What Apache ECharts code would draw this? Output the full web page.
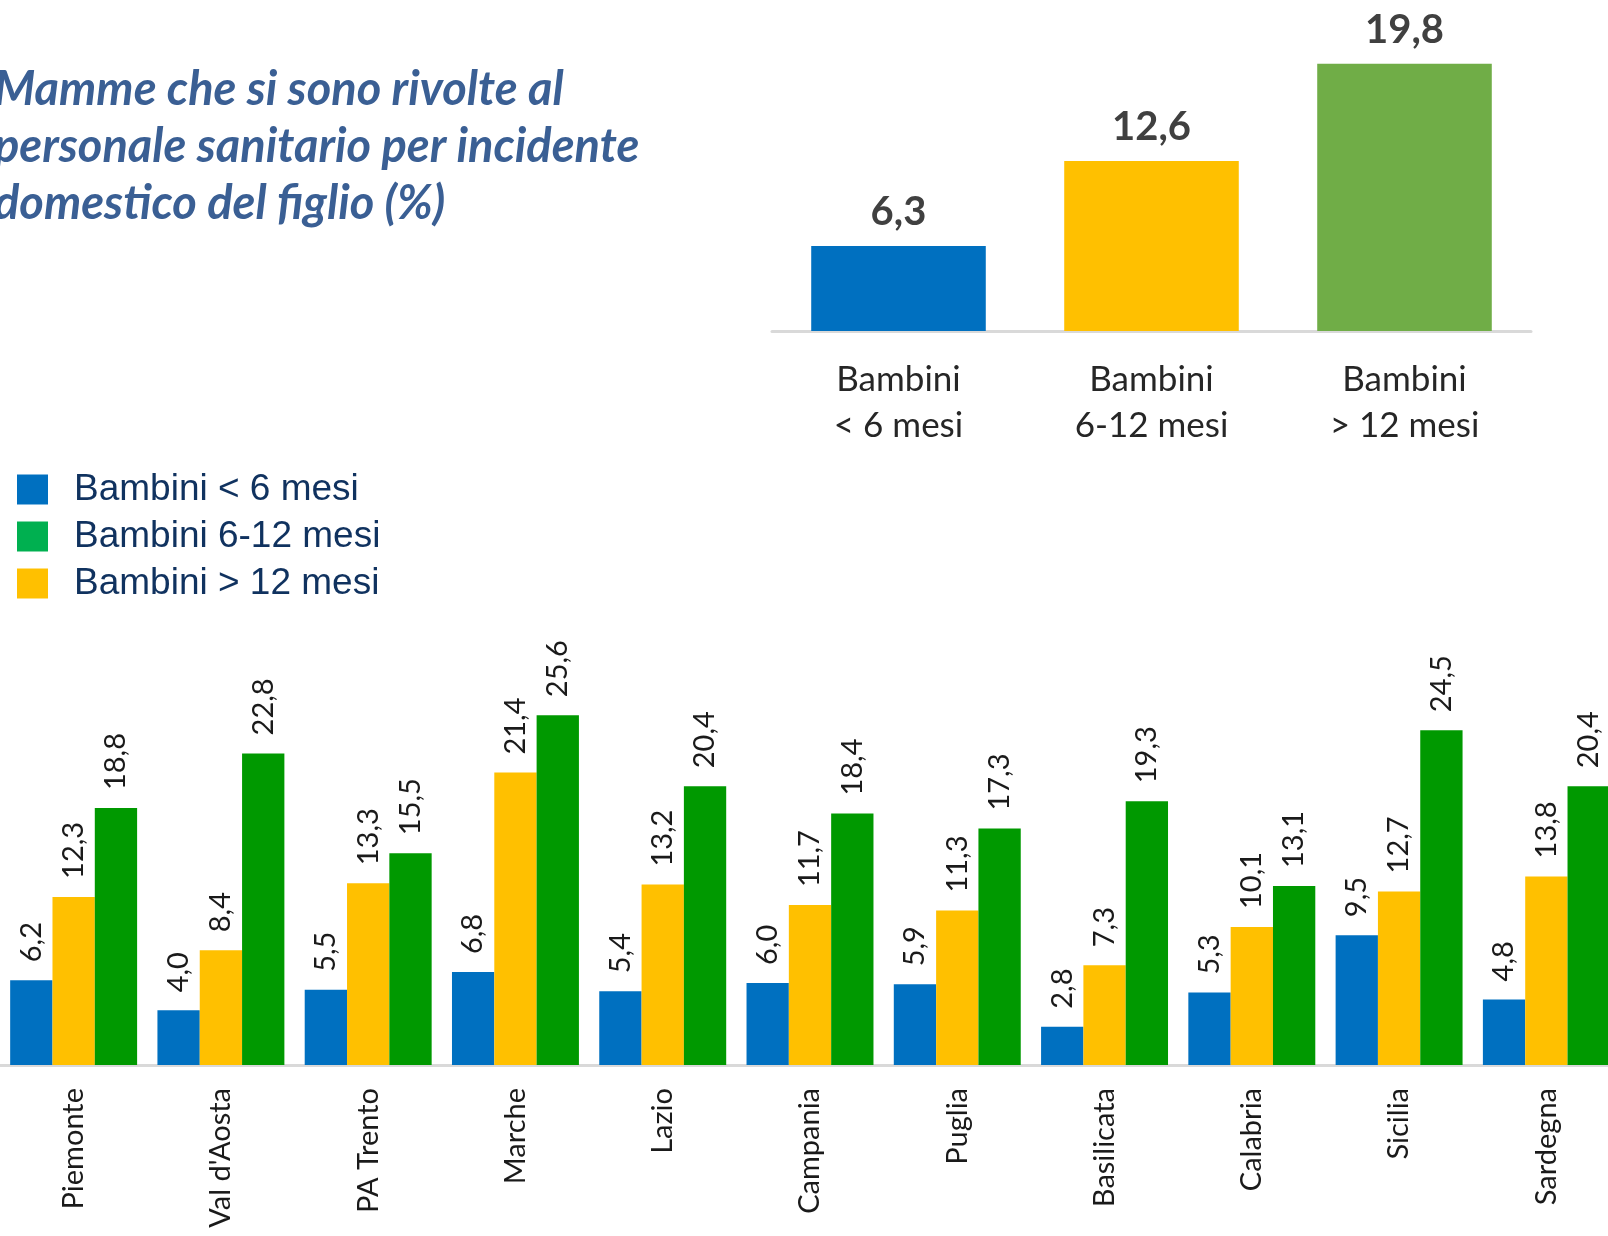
<!DOCTYPE html>
<html>
<head>
<meta charset="utf-8">
<script src="https://cdn.jsdelivr.net/npm/echarts@6/dist/echarts.min.js"></script>
<style>html,body{margin:0;padding:0;background:#fff;overflow:hidden;}#chart{width:1620px;height:1236px;}</style>
</head>
<body>
<div id="chart"></div>
<script>
// ---- data ----
const titleText = 'Mamme che si sono rivolte al\npersonale sanitario per incidente\ndomestico del figlio (%)';
const topCategories = ['Bambini\n< 6 mesi', 'Bambini\n6-12 mesi', 'Bambini\n> 12 mesi'];
const topValues = [6.3, 12.6, 19.8];
const regions = ['Piemonte', "Val d'Aosta", 'PA Trento', 'Marche', 'Lazio', 'Campania', 'Puglia', 'Basilicata', 'Calabria', 'Sicilia', 'Sardegna'];
const seriesNames = ['Bambini < 6 mesi', 'Bambini 6-12 mesi', 'Bambini > 12 mesi'];
const under6 = [6.2, 4.0, 5.5, 6.8, 5.4, 6.0, 5.9, 2.8, 5.3, 9.5, 4.8];
const from6to12 = [12.3, 8.4, 13.3, 21.4, 13.2, 11.7, 11.3, 7.3, 10.1, 12.7, 13.8];
const over12 = [18.8, 22.8, 15.5, 25.6, 20.4, 18.4, 17.3, 19.3, 13.1, 24.5, 20.4];

// ---- styles ----
const topColors = ['#0070C0', '#FFC000', '#70AD47'];
const barColors = ['#0070C0', '#FFC000', '#009900'];
const legendColors = ['#0070C0', '#00B050', '#FFC000'];
const fmt = p => p.value.toFixed(1).replace('.', ',');
const F = 'Lato, "Open Sans", sans-serif';

const chart = echarts.init(document.getElementById('chart'));
const bottomSeriesData = [under6, from6to12, over12];

chart.setOption({
  animation: false,
  backgroundColor: '#ffffff',
  graphic: [{
    type: 'text', left: -6, top: 61,
    style: { text: titleText, font: 'italic bold 47px ' + F, fill: '#3A5F94', lineHeight: 57 }
  }],
  legend: {
    orient: 'vertical', left: 12, top: 466, itemWidth: 31, itemHeight: 30, itemGap: 10,
    icon: 'rect', selectedMode: false,
    textStyle: { fontFamily: '"Liberation Sans", Arial, sans-serif', fontSize: 37, color: '#10325F', padding: [0, 0, 0, 21] },
    data: seriesNames.map((n, i) => ({ name: n, itemStyle: { color: legendColors[i] } }))
  },
  grid: [
    { left: 772, width: 759, top: 61, height: 270 },
    { left: 0, right: 0, top: 655, height: 410 }
  ],
  xAxis: [
    { type: 'category', gridIndex: 0, data: topCategories,
      axisLine: { lineStyle: { color: '#D9D9D9', width: 3 } }, axisTick: { show: false },
      axisLabel: { fontFamily: F, fontSize: 35, color: '#262626', lineHeight: 46, margin: 26 } },
    { type: 'category', gridIndex: 1, data: regions,
      axisLine: { lineStyle: { color: '#D9D9D9', width: 3 } }, axisTick: { show: false },
      axisLabel: { fontFamily: F, fontSize: 29, color: '#1A1A1A', rotate: 90, margin: 23, interval: 0 } }
  ],
  yAxis: [
    { type: 'value', gridIndex: 0, min: 0, max: 20, show: false },
    { type: 'value', gridIndex: 1, min: 0, max: 30, show: false }
  ],
  series: [
    { type: 'bar', xAxisIndex: 0, yAxisIndex: 0, barCategoryGap: '31%',
      data: topValues.map((v, i) => ({ value: v, itemStyle: { color: topColors[i] } })),
      label: { show: true, position: 'top', distance: 14, formatter: fmt,
        fontFamily: F, fontWeight: 'bold', fontSize: 40, color: '#404040' } }
  ].concat(seriesNames.map((n, i) => ({
    name: n, type: 'bar', xAxisIndex: 1, yAxisIndex: 1,
    barGap: '0%', barCategoryGap: '13.8%',
    itemStyle: { color: barColors[i] },
    data: bottomSeriesData[i],
    label: { show: true, position: 'top', rotate: 90, align: 'left', verticalAlign: 'middle', distance: 18,
      formatter: fmt, fontFamily: F, fontSize: 29, color: '#1A1A1A' }
  })))
});
</script>
</body>
</html>
